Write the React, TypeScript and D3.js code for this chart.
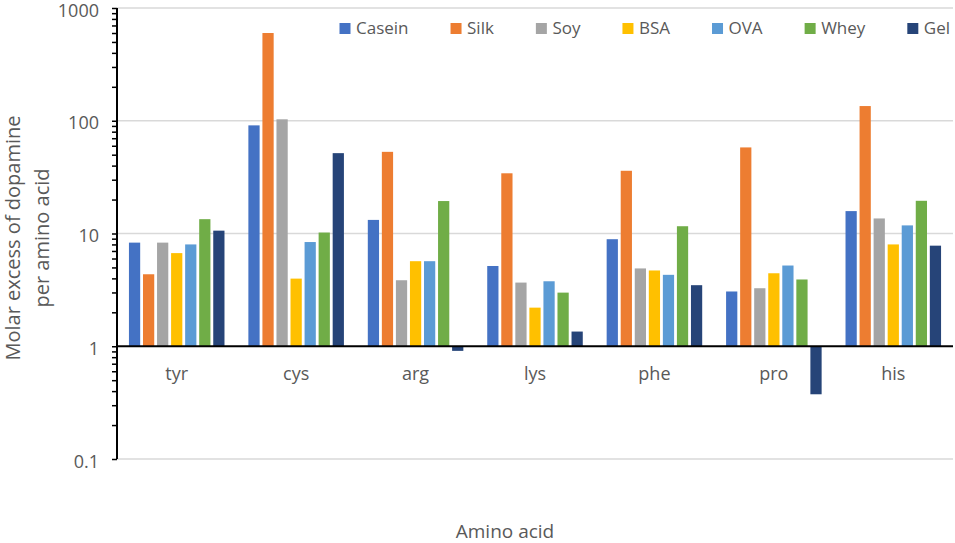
import React, { useEffect, useRef } from 'react';
import * as d3 from 'd3';

// amino acids on the x axis
const aminoAcids = ['tyr', 'cys', 'arg', 'lys', 'phe', 'pro', 'his'];

// protein series, in legend order
const proteins = ['Casein', 'Silk', 'Soy', 'BSA', 'OVA', 'Whey', 'Gel'];
const proteinColors = ['#4472C4', '#ED7D31', '#A5A5A5', '#FFC000', '#5B9BD5', '#70AD47', '#264478'];

// molar excess of dopamine per amino acid, one array per protein (tyr..his)
const casein = [8.3, 91, 13.2, 5.15, 8.9, 3.06, 15.8];
const silk = [4.35, 600, 53, 34.2, 36, 58, 135];
const soy = [8.3, 103, 3.85, 3.67, 4.9, 3.27, 13.6];
const bsa = [6.7, 3.98, 5.68, 2.2, 4.7, 4.44, 8.0];
const ova = [8.0, 8.4, 5.68, 3.77, 4.3, 5.2, 11.8];
const whey = [13.4, 10.2, 19.4, 2.99, 11.6, 3.91, 19.5];
const gel = [10.6, 51.6, 0.91, 1.35, 3.48, 0.375, 7.8];

const yTickValues = [0.1, 1, 10, 100, 1000];

const seriesValues = [casein, silk, soy, bsa, ova, whey, gel];

export default function App() {
  const svgRef = useRef<SVGSVGElement>(null);
  const width = 955;
  const height = 543;

  useEffect(() => {
    document.body.style.margin = '0';
    if (!svgRef.current) return;

    const svg = d3.select(svgRef.current);
    svg.selectAll('*').remove();

    const font = '"Open Sans", "Segoe UI", sans-serif';
    const textColor = '#595959';
    const plot = { left: 117, right: 953, top: 8, bottom: 459 };

    const y = d3.scaleLog()
      .domain([0.1, 1000])
      .range([plot.bottom, plot.top]);

    const x0 = d3.scaleBand()
      .domain(aminoAcids)
      .range([plot.left, plot.right])
      .paddingInner(0.2)
      .paddingOuter(0.1);

    const x1 = d3.scaleBand()
      .domain(proteins)
      .range([0, x0.bandwidth()])
      .paddingInner(0.2);

    // gridlines
    svg.append('g')
      .selectAll('line')
      .data(yTickValues.filter(v => v !== 1))
      .join('line')
      .attr('x1', plot.left)
      .attr('x2', plot.right)
      .attr('y1', d => y(d))
      .attr('y2', d => y(d))
      .attr('stroke', '#d9d9d9')
      .attr('stroke-width', 1.5);

    // bars, drawn from the value 1 where the x axis crosses
    const rows = aminoAcids.map((a, i) => ({
      acid: a,
      values: proteins.map((p, j) => ({ protein: p, value: seriesValues[j][i], color: proteinColors[j] })),
    }));

    const groups = svg.append('g')
      .selectAll('g')
      .data(rows)
      .join('g')
      .attr('transform', d => `translate(${x0(d.acid)},0)`);

    groups.selectAll('rect')
      .data(d => d.values)
      .join('rect')
      .attr('x', d => x1(d.protein)!)
      .attr('width', x1.bandwidth())
      .attr('y', d => Math.min(y(d.value), y(1)))
      .attr('height', d => Math.abs(y(d.value) - y(1)))
      .attr('fill', d => d.color);

    // x axis line at 1
    svg.append('line')
      .attr('x1', plot.left)
      .attr('x2', plot.right)
      .attr('y1', y(1))
      .attr('y2', y(1))
      .attr('stroke', '#000')
      .attr('stroke-width', 2);

    // y axis with log ticks
    const yAxis = d3.axisLeft(y)
      .ticks(10)
      .tickSize(5)
      .tickPadding(13)
      .tickFormat(d => (yTickValues.includes(+d) ? String(+d) : ''));

    svg.append('g')
      .attr('transform', `translate(${plot.left},0)`)
      .call(yAxis)
      .call(g => g.select('.domain').attr('stroke', '#000').attr('stroke-width', 2).attr('d', `M0,${plot.top}V${plot.bottom}`))
      .call(g => g.selectAll('.tick line').attr('stroke', '#000').attr('stroke-width', 1.5))
      .call(g => g.selectAll('.tick text')
        .attr('font-family', font)
        .attr('font-size', 18)
        .attr('fill', textColor)
        .attr('dy', '0.45em'));

    // category labels
    svg.append('g')
      .selectAll('text')
      .data(aminoAcids)
      .join('text')
      .attr('x', d => x0(d)! + x0.bandwidth() / 2)
      .attr('y', 380)
      .attr('text-anchor', 'middle')
      .attr('font-family', font)
      .attr('font-size', 18)
      .attr('fill', textColor)
      .text(d => d);

    // axis titles
    svg.append('text')
      .attr('x', 505)
      .attr('y', 538)
      .attr('text-anchor', 'middle')
      .attr('font-family', font)
      .attr('font-size', 19)
      .attr('fill', textColor)
      .text('Amino acid');

    const yTitle = svg.append('text')
      .attr('transform', 'translate(0,238) rotate(-90)')
      .attr('text-anchor', 'middle')
      .attr('font-family', font)
      .attr('font-size', 20)
      .attr('fill', textColor);
    yTitle.append('tspan').attr('x', 0).attr('y', 19.5).text('Molar excess of dopamine');
    yTitle.append('tspan').attr('x', 0).attr('y', 48.5).text('per amino acid');

    // legend
    const legend = svg.append('g');
    let lx = 339.5;
    proteins.forEach((p, i) => {
      legend.append('rect')
        .attr('x', lx)
        .attr('y', 23)
        .attr('width', 11)
        .attr('height', 11)
        .attr('fill', proteinColors[i]);
      const t = legend.append('text')
        .attr('x', lx + 16.5)
        .attr('y', 34)
        .attr('font-family', font)
        .attr('font-size', 17)
        .attr('fill', textColor)
        .text(p);
      const w = (t.node() as SVGTextElement).getComputedTextLength();
      lx += 16.5 + w + 42;
    });
  }, []);

  return <svg ref={svgRef} width={width} height={height} style={{ display: 'block', background: '#fff' }} />;
}
